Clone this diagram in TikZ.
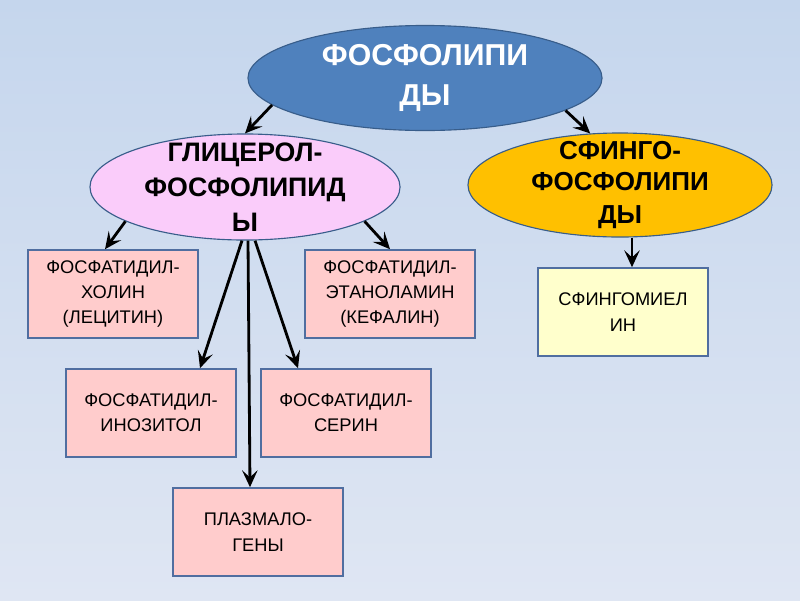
\documentclass[tikz,border=0pt]{standalone}
\usepackage{fontspec}
\setmainfont{Liberation Sans}
\usepackage{xcolor}
\usepackage{tikz}
\usetikzlibrary{arrows.meta, shapes.geometric}

\definecolor{fonverh}{RGB}{197,214,237}
\definecolor{fonniz}{RGB}{223,230,243}
\definecolor{sinij}{RGB}{79,129,189}
\definecolor{sinijkraj}{RGB}{56,93,138}
\definecolor{rozovyj}{RGB}{250,204,250}
\definecolor{oranzhevyj}{RGB}{255,192,0}
\definecolor{rozblok}{RGB}{255,204,204}
\definecolor{zheltyj}{RGB}{255,255,204}
\definecolor{blokkraj}{RGB}{80,110,160}

\begin{document}
\begin{tikzpicture}[
        x=0.025cm,
        y=-0.025cm,
        ellips/.style={
            ellipse,
            draw=sinijkraj,
            line width=0.8pt,
            inner sep=-14pt,
            align=center,
            font=\bfseries\fontsize{19}{25}\selectfont
        },
        blok/.style={
            draw=blokkraj,
            line width=1.1pt,
            fill=rozblok,
            minimum width=4.25cm,
            minimum height=2.2cm,
            align=center,
            font=\fontsize{13}{18}\selectfont
        },
        strelka/.style={
            -{Stealth[length=12pt, width=11pt, inset=5pt]},
            line width=2pt
        }
    ]

    \fill[top color=fonverh, bottom color=fonniz] (0,0) rectangle (800,600);

    \node[ellips, fill=sinij, text=white, minimum width=8.85cm, minimum height=2.625cm,
        font=\bfseries\fontsize{21.5}{28.5}\selectfont] (fosfolipidy) at (425,78) {
        ФОСФОЛИПИ\\ДЫ
    };

    \node[ellips, fill=rozovyj, minimum width=7.75cm, minimum height=2.65cm] (glicerol) at (245,187) {
        ГЛИЦЕРОЛ-\\ФОСФОЛИПИД\\Ы
    };

    \node[ellips, fill=oranzhevyj, minimum width=7.6cm, minimum height=2.6cm,
        font=\bfseries\fontsize{18.5}{23.5}\selectfont] (sfingo) at (620,185) {
        \raisebox{-2pt}{СФИНГО-}\\ФОСФОЛИПИ\\ДЫ
    };

    \node[blok] (holin) at (113,294) {
        ФОСФАТИДИЛ-\\ХОЛИН\\(ЛЕЦИТИН)
    };

    \node[blok] (etanolamin) at (390,294) {
        ФОСФАТИДИЛ-\\ЭТАНОЛАМИН\\(КЕФАЛИН)
    };

    \node[blok] (inozitol) at (151,413) {
        ФОСФАТИДИЛ-\\ИНОЗИТОЛ
    };

    \node[blok] (serin) at (346,413) {
        ФОСФАТИДИЛ-\\СЕРИН
    };

    \node[blok] (plazmalogeny) at (258,532) {
        ПЛАЗМАЛО-\\ГЕНЫ
    };

    \node[blok, fill=zheltyj] (sfingomielin) at (623,312) {
        СФИНГОМИЕЛ\\ИН
    };

    \draw[strelka] (fosfolipidy.190) -- (glicerol.north);
    \draw[strelka] (fosfolipidy.347) -- (sfingo.120);

    \draw[strelka] (glicerol.196) -- ([xshift=-0.2cm]holin.north);
    \draw[strelka] (glicerol.344) -- (etanolamin.north);
    \draw[strelka] ([xshift=-0.075cm]glicerol.south) -- ([xshift=1.225cm]inozitol.north);
    \draw[strelka] ([xshift=0.075cm]glicerol.south) -- ([xshift=-0.2cm]plazmalogeny.north);
    \draw[strelka] ([xshift=0.25cm]glicerol.south) -- ([xshift=-1.2cm]serin.north);

    \draw[strelka] ([xshift=0.3cm]sfingo.south) -- ([xshift=0.3cm]sfingo.south |- sfingomielin.north);

\end{tikzpicture}
\end{document}
